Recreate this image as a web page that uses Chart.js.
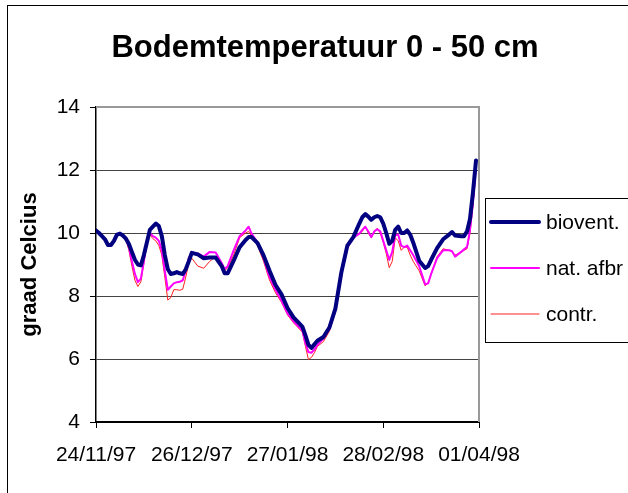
<!DOCTYPE html>
<html>
<head>
<meta charset="utf-8">
<script src="https://cdn.jsdelivr.net/npm/chart.js@4/dist/chart.umd.min.js"></script>
<style>
  html, body { margin: 0; padding: 0; background: #fff; }
  #wrap { width: 628px; height: 493px; }
</style>
</head>
<body>
<div id="wrap"><canvas id="tempChart" width="628" height="493"></canvas></div>
<script>
// day number since 24/11/97
const days = [0, 1, 2, 3, 4, 5, 6, 7, 8, 9, 10, 11, 12, 13, 14, 15, 16, 17, 18, 19,
  20, 21, 22, 23, 24, 25, 26, 27, 28, 29, 30, 31, 32, 34, 36, 38, 40, 42, 43, 44,
  46, 48, 50, 51, 52, 54, 56, 58, 60, 62, 64, 66, 68, 69, 70, 71, 72, 73, 74, 76,
  78, 80, 82, 84, 86, 88, 89, 90, 91, 92, 93, 94, 95, 96, 97, 98, 99, 100, 101, 102,
  103, 104, 105, 106, 108, 110, 111, 112, 114, 116, 118, 119, 120, 122, 123, 124, 125, 126, 127];

const biovent = [10.08, 10.0, 9.9, 9.8, 9.62, 9.62, 9.75, 9.95, 9.98, 9.92, 9.82, 9.65, 9.4, 9.15, 9.0, 8.97, 9.3, 9.7, 10.1, 10.2,
  10.3, 10.22, 9.9, 9.3, 8.85, 8.7, 8.72, 8.76, 8.72, 8.7, 8.85, 9.1, 9.37, 9.32, 9.2, 9.22, 9.22, 8.95, 8.72, 8.72,
  9.12, 9.55, 9.78, 9.87, 9.87, 9.68, 9.29, 8.8, 8.35, 8.05, 7.62, 7.32, 7.12, 7.02, 6.75, 6.45, 6.35, 6.47, 6.58, 6.7,
  7.0, 7.6, 8.75, 9.6, 9.87, 10.3, 10.5, 10.6, 10.52, 10.42, 10.5, 10.54, 10.5, 10.3, 10.0, 9.66, 9.75, 10.1, 10.2, 10.0,
  10.0, 10.08, 9.95, 9.7, 9.12, 8.89, 8.95, 9.15, 9.52, 9.8, 9.95, 10.03, 9.92, 9.9, 9.9, 10.05, 10.45, 11.3, 12.3];

const natAfbr = [10.08, 10.0, 9.88, 9.78, 9.6, 9.6, 9.78, 9.95, 10.0, 9.92, 9.82, 9.55, 9.1, 8.7, 8.44, 8.55, 9.1, 9.75, 10.0, 9.9,
  9.85, 9.75, 9.45, 8.8, 8.2, 8.3, 8.4, 8.44, 8.45, 8.5, 8.8, 9.2, 9.38, 9.35, 9.25, 9.4, 9.38, 9.05, 8.85, 8.95,
  9.45, 9.9, 10.08, 10.2, 9.98, 9.7, 9.2, 8.6, 8.2, 7.85, 7.45, 7.2, 7.0, 6.9, 6.5, 6.22, 6.2, 6.3, 6.45, 6.65,
  6.95, 7.55, 8.7, 9.55, 9.85, 9.98, 10.1, 10.2, 10.05, 9.87, 10.05, 10.12, 10.05, 9.75, 9.45, 9.15, 9.4, 9.93, 9.95, 9.6,
  9.55, 9.6, 9.45, 9.3, 8.95, 8.37, 8.4, 8.7, 9.2, 9.45, 9.45, 9.42, 9.25, 9.4, 9.48, 9.55, 10.1, 11.0, 12.15];

const contr = [10.1, 10.0, 9.88, 9.75, 9.6, 9.6, 9.8, 9.98, 10.0, 9.9, 9.8, 9.45, 8.95, 8.5, 8.3, 8.45, 9.05, 9.7, 9.95, 9.82,
  9.75, 9.6, 9.3, 8.6, 7.87, 7.95, 8.2, 8.2, 8.18, 8.22, 8.6, 9.05, 9.2, 8.95, 8.88, 9.1, 9.25, 8.98, 8.8, 8.9,
  9.3, 9.85, 10.0, 10.05, 9.9, 9.6, 9.1, 8.5, 8.1, 7.8, 7.4, 7.15, 6.95, 6.85, 6.4, 5.98, 6.05, 6.2, 6.4, 6.55,
  6.88, 7.5, 8.7, 9.5, 9.85, 9.98, 10.05, 10.2, 10.0, 9.85, 10.05, 10.15, 10.0, 9.7, 9.35, 8.9, 9.1, 9.85, 9.75, 9.45,
  9.55, 9.55, 9.3, 9.1, 8.8, 8.32, 8.42, 8.7, 9.25, 9.5, 9.45, 9.42, 9.3, 9.38, 9.45, 9.5, 10.0, 10.9, 12.0];

const dateLabels = ['24/11/97', '26/12/97', '27/01/98', '28/02/98', '01/04/98'];
const seriesNames = ['biovent.', 'nat. afbr', 'contr.'];
const chartTitle = 'Bodemtemperatuur 0 - 50 cm';

const FONT = 'Liberation Sans, Arial, sans-serif';

function toPoints(values) {
  return values.map((v, i) => ({ x: days[i], y: v }));
}

// white background, outer frame, title, plot border and the boxed legend
const framePlugin = {
  id: 'frame',
  beforeDraw(chart) {
    const ctx = chart.ctx;
    ctx.save();
    ctx.fillStyle = '#fff';
    ctx.fillRect(0, 0, chart.width, chart.height);
    ctx.strokeStyle = '#000';
    ctx.lineWidth = 1;
    ctx.strokeRect(7.5, 5.5, 700, 600);
    ctx.fillStyle = '#000';
    ctx.font = 'bold 31px ' + FONT;
    ctx.textAlign = 'center';
    ctx.textBaseline = 'middle';
    ctx.fillText(chartTitle, 325, 48);
    ctx.restore();
  },
  afterDatasetsDraw(chart) {
    const ctx = chart.ctx;
    const a = chart.chartArea;
    ctx.save();
    ctx.strokeStyle = '#999';
    ctx.lineWidth = 2;
    ctx.beginPath();
    ctx.moveTo(a.left, a.top);
    ctx.lineTo(a.right, a.top);
    ctx.lineTo(a.right, a.bottom);
    ctx.stroke();
    ctx.restore();
  },
  afterDraw(chart) {
    const ctx = chart.ctx;
    ctx.save();
    ctx.strokeStyle = '#000';
    ctx.lineWidth = 1;
    ctx.strokeRect(485.5, 198.5, 200, 144);
    ctx.font = '21px ' + FONT;
    ctx.textBaseline = 'middle';
    ctx.fillStyle = '#000';
    const rows = [222, 268, 314];
    chart.data.datasets.forEach((ds, i) => {
      ctx.strokeStyle = ds.borderColor;
      ctx.lineWidth = ds.borderWidth;
      ctx.lineCap = 'round';
      ctx.beginPath();
      ctx.moveTo(491, rows[i]);
      ctx.lineTo(539, rows[i]);
      ctx.stroke();
      ctx.fillText(ds.label, 546, rows[i] + 1);
    });
    ctx.restore();
  }
};

new Chart(document.getElementById('tempChart'), {
  type: 'line',
  data: {
    datasets: [
      { label: seriesNames[0], data: toPoints(biovent), borderColor: '#000080', borderWidth: 4 },
      { label: seriesNames[1], data: toPoints(natAfbr), borderColor: '#ff00ff', borderWidth: 2 },
      { label: seriesNames[2], data: toPoints(contr), borderColor: '#ff2020', borderWidth: 1 }
    ]
  },
  options: {
    responsive: false,
    animation: false,
    layout: { padding: { left: 0, right: 149, top: 107, bottom: 0 } },
    elements: {
      point: { radius: 0 },
      line: { tension: 0, borderJoinStyle: 'round', borderCapStyle: 'round' }
    },
    plugins: {
      legend: { display: false },
      tooltip: { enabled: false },
      title: { display: false }
    },
    scales: {
      x: {
        type: 'linear',
        min: 0,
        max: 128,
        afterFit(scale) { scale.height = 71; },
        ticks: {
          stepSize: 32,
          color: '#000',
          padding: 15,
          maxRotation: 0,
          autoSkip: false,
          font: { family: FONT, size: 21 },
          callback: (value) => dateLabels[value / 32]
        },
        grid: { drawOnChartArea: false, drawTicks: true, tickLength: 6, color: '#000' },
        border: { color: '#000', width: 2 }
      },
      y: {
        min: 4,
        max: 14,
        afterFit(scale) { scale.width = 96; },
        ticks: {
          stepSize: 2,
          color: '#000',
          padding: 10,
          font: { family: FONT, size: 21 }
        },
        grid: { color: '#444', tickLength: 6, tickColor: '#000' },
        border: { color: '#000', width: 1.5 },
        title: {
          display: true,
          text: 'graad Celcius',
          color: '#000',
          font: { family: FONT, size: 22, weight: 'bold' },
          padding: { top: 17, bottom: 0 }
        }
      }
    }
  },
  plugins: [framePlugin]
});
</script>
</body>
</html>
